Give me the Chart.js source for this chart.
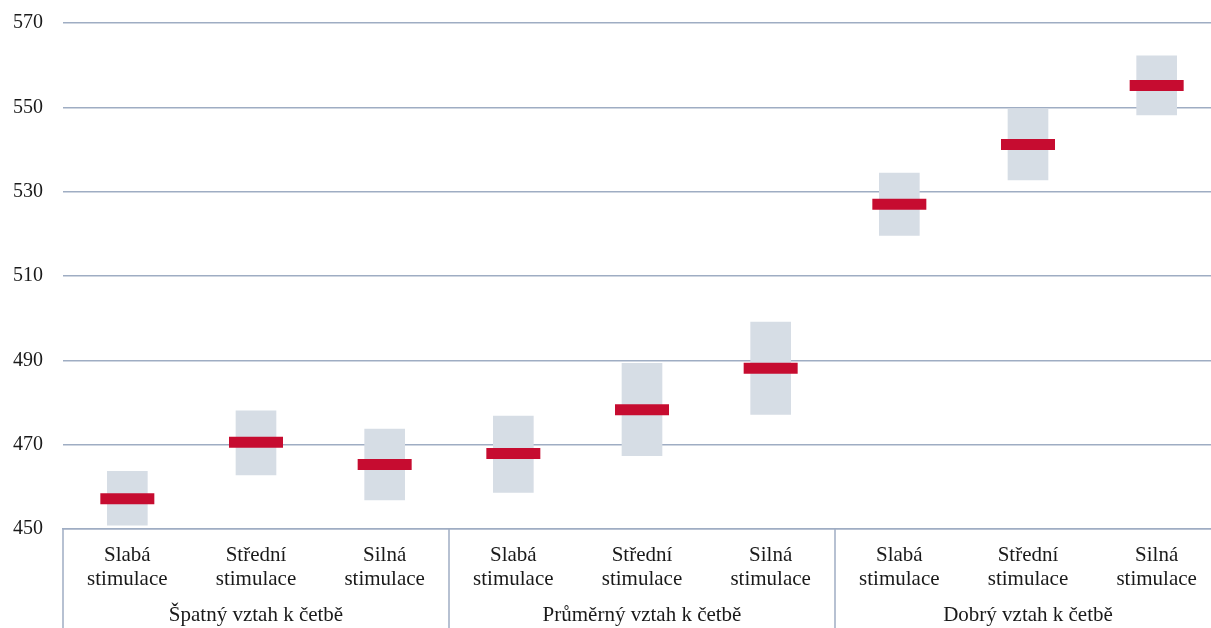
<!DOCTYPE html>
<html>
<head>
<meta charset="utf-8">
<script src="https://cdn.jsdelivr.net/npm/chart.js@4/dist/chart.umd.min.js"></script>
<style>
html,body{margin:0;padding:0;background:#fff;overflow:hidden;width:1211px;height:628px;}
#wrap{width:1222px;height:628px;}
</style>
</head>
<body>
<div id="wrap"><canvas id="c" width="1222" height="628"></canvas></div>
<script>
const categories = [
  ['Slabá','stimulace'],['Střední','stimulace'],['Silná','stimulace'],
  ['Slabá','stimulace'],['Střední','stimulace'],['Silná','stimulace'],
  ['Slabá','stimulace'],['Střední','stimulace'],['Silná','stimulace']
];
const groups = ['Špatný vztah k četbě','Průměrný vztah k četbě','Dobrý vztah k četbě'];
const means = [457.2, 470.6, 465.3, 467.9, 478.3, 488.1, 527.0, 541.2, 555.2];
const lower = [450.9, 462.8, 456.9, 458.7, 467.4, 477.2, 519.6, 532.8, 548.2];
const upper = [463.7, 478.0, 473.7, 476.8, 489.3, 499.1, 534.4, 549.6, 562.2];
const yTicks = [450, 470, 490, 510, 530, 550, 570];

const gridColor = '#9fadc3';
const textColor = '#1a1a1a';
const fontFamily = '"Liberation Serif", "Times New Roman", serif';

const groupPlugin = {
  id: 'groupPlugin',
  afterDraw(chart) {
    const ctx = chart.ctx;
    const x = chart.scales.x;
    const area = chart.chartArea;
    ctx.save();
    ctx.strokeStyle = gridColor;
    ctx.lineWidth = 1.5;
    const seps = [area.left];
    for (let g = 1; g < groups.length; g++) {
      const i = g * 3;
      seps.push((x.getPixelForValue(i - 1) + x.getPixelForValue(i)) / 2);
    }
    seps.forEach(px => {
      ctx.beginPath();
      ctx.moveTo(px, area.bottom);
      ctx.lineTo(px, chart.height);
      ctx.stroke();
    });
    ctx.fillStyle = textColor;
    ctx.font = '21px ' + fontFamily;
    ctx.textAlign = 'center';
    ctx.textBaseline = 'middle';
    groups.forEach((g, k) => {
      const cx = x.getPixelForValue(k * 3 + 1);
      ctx.fillText(g, cx, 615);
    });
    ctx.restore();
  }
};

new Chart(document.getElementById('c'), {
  data: {
    labels: categories,
    datasets: [
      {
        type: 'line',
        data: means,
        showLine: false,
        pointStyle: 'line',
        pointRadius: 27,
        pointHoverRadius: 27,
        pointBorderWidth: 11,
        pointHoverBorderWidth: 11,
        borderColor: '#c60c30',
        pointBorderColor: '#c60c30',
        order: 0
      },
      {
        type: 'bar',
        data: lower.map((l, i) => [l, upper[i]]),
        backgroundColor: '#d6dde5',
        borderWidth: 0,
        barThickness: 40,
        order: 1
      }
    ]
  },
  options: {
    responsive: false,
    animation: false,
    events: [],
    layout: { autoPadding: false, padding: { top: 23, right: 1, left: 0, bottom: 0 } },
    plugins: { legend: { display: false }, tooltip: { enabled: false } },
    scales: {
      x: {
        type: 'category',
        offset: true,
        grid: { display: false, drawTicks: false },
        border: { display: true, color: gridColor, width: 1.5 },
        ticks: {
          color: textColor,
          font: { family: fontFamily, size: 21, lineHeight: 1.12 },
          padding: 15,
          maxRotation: 0,
          autoSkip: false
        },
        afterFit(s) { s.height = 99; s.paddingLeft = 0; s.paddingRight = 0; }
      },
      y: {
        min: 450,
        max: 570,
        afterBuildTicks(s) { s.ticks = yTicks.map(v => ({ value: v })); },
        grid: { color: gridColor, lineWidth: 1.5, drawTicks: false },
        border: { display: false },
        ticks: {
          color: textColor,
          font: { family: fontFamily, size: 20 },
          padding: 20
        },
        afterFit(s) { s.width = 63; s.paddingTop = 0; s.paddingBottom = 0; }
      }
    }
  },
  plugins: [groupPlugin]
});
</script>
</body>
</html>
